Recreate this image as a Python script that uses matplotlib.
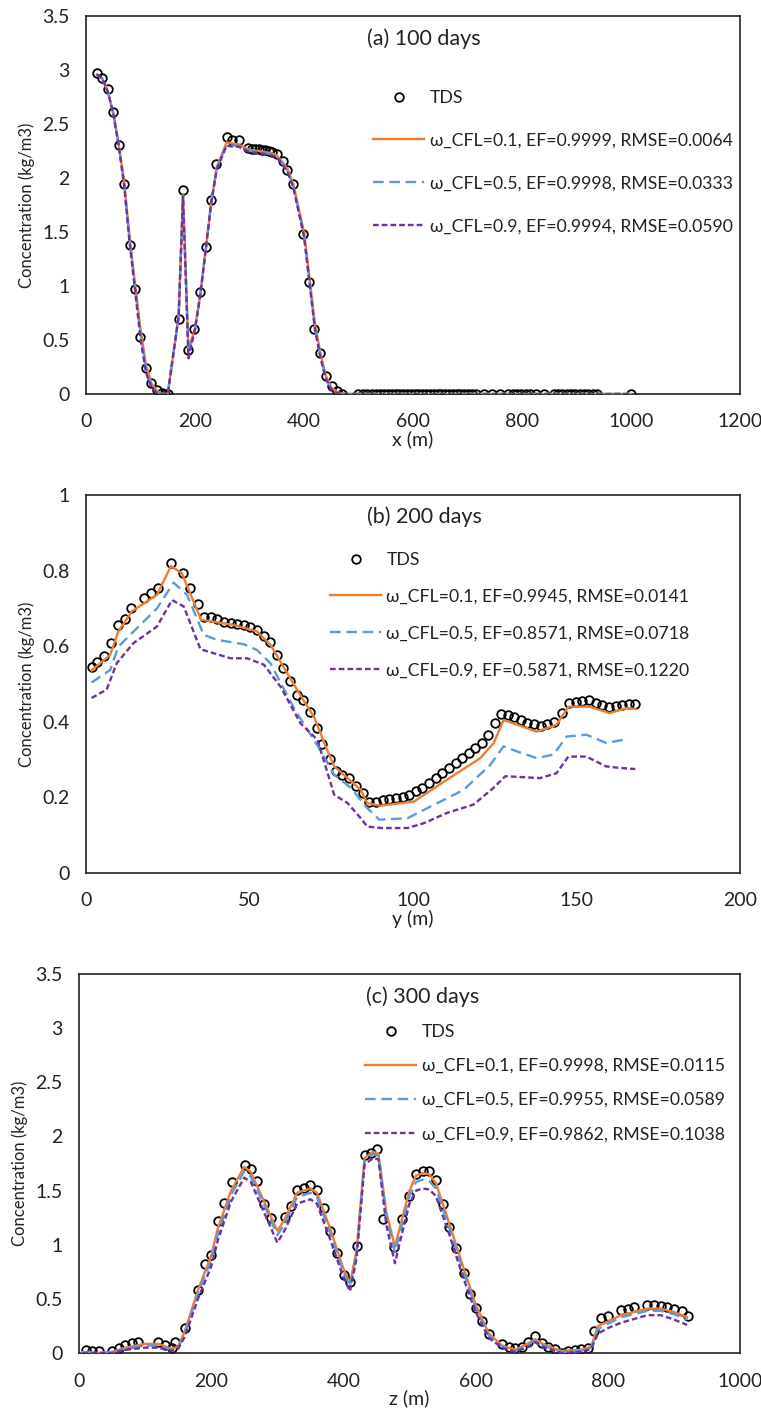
import matplotlib
matplotlib.use("Agg")
from matplotlib import pyplot
from matplotlib.ticker import FuncFormatter

pyplot.rcParams['font.family'] = ['Lato', 'DejaVu Sans']

# ---------------- (a) 100 days, x direction ----------------
xa_tds = [20, 30, 40, 50, 60, 70, 80, 90, 100, 110, 120, 130, 140, 145, 150,
          170, 178, 188, 199, 209, 220, 229, 239, 258, 268, 280, 298, 305, 311,
          317, 323, 329, 335, 341, 350, 361, 369, 379, 399, 409, 419, 429, 440,
          451, 460, 469, 500, 508, 516, 524, 532, 540, 547, 554, 561, 568, 575,
          582, 589, 596, 603, 610, 617, 624, 631, 638, 645, 652, 659, 666, 673,
          680, 687, 694, 701, 708, 715, 730, 745, 760, 775, 783, 791, 799, 807,
          815, 825, 840, 858, 866, 874, 882, 890, 898, 906, 914, 922, 930, 938,
          1000]
ya_tds = [2.97, 2.93, 2.82, 2.61, 2.31, 1.94, 1.38, 0.97, 0.53, 0.24, 0.10, 0.04,
          0.01, 0.0, 0.0, 0.69, 1.89, 0.41, 0.60, 0.94, 1.36, 1.80, 2.13, 2.38,
          2.35, 2.35, 2.28, 2.27, 2.27, 2.27, 2.26, 2.26, 2.25, 2.24, 2.22, 2.16,
          2.07, 1.94, 1.48, 1.04, 0.60, 0.38, 0.17, 0.07, 0.025, 0.0, 0.0, 0.0,
          0.0, 0.0, 0.0, 0.0, 0.0, 0.0, 0.0, 0.0, 0.0, 0.0, 0.0, 0.0, 0.0, 0.0,
          0.0, 0.0, 0.0, 0.0, 0.0, 0.0, 0.0, 0.0, 0.0, 0.0, 0.0, 0.0, 0.0, 0.0,
          0.0, 0.0, 0.0, 0.0, 0.0, 0.0, 0.0, 0.0, 0.0, 0.0, 0.0, 0.0, 0.0, 0.0,
          0.0, 0.0, 0.0, 0.0, 0.0, 0.0, 0.0, 0.0, 0.0, 0.0]

xa_sim = [20, 30, 40, 50, 60, 70, 80, 90, 100, 110, 120, 130, 140, 150, 170,
          178, 188, 200, 210, 220, 230, 240, 258, 270, 280, 300, 320, 340, 350,
          360, 370, 380, 400, 410, 420, 430, 440, 450, 460, 470, 1000]
ya_cfl01 = [2.96, 2.92, 2.80, 2.60, 2.31, 1.97, 1.45, 1.02, 0.60, 0.27, 0.10,
            0.03, 0.0, 0.0, 0.72, 1.85, 0.42, 0.60, 0.93, 1.35, 1.78, 2.10,
            2.33, 2.32, 2.31, 2.26, 2.25, 2.23, 2.21, 2.15, 2.08, 1.95, 1.50,
            1.08, 0.65, 0.38, 0.17, 0.06, 0.02, 0.0, 0.0]
ya_cfl05 = [2.96, 2.92, 2.80, 2.60, 2.31, 1.95, 1.42, 0.99, 0.56, 0.24, 0.08,
            0.02, 0.0, 0.0, 0.72, 1.84, 0.38, 0.60, 0.93, 1.35, 1.78, 2.09,
            2.31, 2.30, 2.30, 2.25, 2.24, 2.22, 2.20, 2.14, 2.06, 1.93, 1.48,
            1.05, 0.62, 0.36, 0.15, 0.05, 0.01, 0.0, 0.0]
ya_cfl09 = [2.96, 2.92, 2.80, 2.60, 2.30, 1.93, 1.40, 0.96, 0.51, 0.20, 0.06,
            0.01, 0.0, 0.0, 0.72, 1.83, 0.33, 0.60, 0.93, 1.35, 1.78, 2.08,
            2.30, 2.29, 2.29, 2.24, 2.23, 2.21, 2.19, 2.13, 2.05, 1.92, 1.46,
            1.03, 0.60, 0.34, 0.14, 0.04, 0.01, 0.0, 0.0]

# ---------------- (b) 200 days, y direction ----------------
xb_tds = [1.7, 3.5, 5.5, 7.7, 9.7, 12.0, 13.8, 17.6, 19.8, 21.9, 26.0, 29.7,
          31.9, 34.2, 36.2, 38.2, 40.1, 42.1, 44.2, 46.2, 48.3, 50.3, 52.3,
          54.4, 56.4, 58.3, 60.3, 62.4, 64.4, 66.5, 68.5, 70.5, 72.3, 74.5,
          76.6, 78.4, 80.5, 82.5, 84.6, 86.6, 88.7, 90.7, 92.7, 94.7, 96.8,
          98.8, 100.8, 102.8, 104.9, 106.9, 108.9, 111.0, 113.0, 115.0, 117.0,
          119.0, 121.0, 123.0, 125.0, 127.0, 129.0, 131.0, 133.0, 135.0, 137.0,
          139.0, 141.0, 143.0, 145.5, 147.8, 149.8, 151.8, 153.9, 155.9, 157.9,
          159.9, 162.0, 164.0, 166.0, 168.0]
yb_tds = [0.546, 0.559, 0.574, 0.608, 0.655, 0.671, 0.700, 0.727, 0.742, 0.753,
          0.821, 0.793, 0.753, 0.711, 0.678, 0.677, 0.671, 0.665, 0.661, 0.659,
          0.656, 0.652, 0.643, 0.627, 0.610, 0.577, 0.542, 0.507, 0.471, 0.458,
          0.427, 0.383, 0.342, 0.301, 0.270, 0.260, 0.251, 0.231, 0.211, 0.189,
          0.189, 0.194, 0.196, 0.198, 0.200, 0.207, 0.216, 0.225, 0.238, 0.251,
          0.264, 0.278, 0.291, 0.304, 0.317, 0.330, 0.345, 0.365, 0.398, 0.420,
          0.418, 0.412, 0.405, 0.398, 0.393, 0.390, 0.393, 0.400, 0.424, 0.451,
          0.452, 0.454, 0.458, 0.451, 0.445, 0.439, 0.442, 0.445, 0.447, 0.448]

xb_cfl01 = [1.7, 7.4, 9.9, 14.0, 21.7, 26.0, 29.3, 35.2, 45.2, 52.3, 56.4, 61.5,
            66.7, 69.7, 73.3, 75.9, 80.0, 84.0, 86.0, 89.8, 100.3, 110.4, 120.6,
            124.7, 127.7, 137.8, 143.9, 147.5, 154.0, 160.1, 165.2, 168.0]
yb_cfl01 = [0.536, 0.577, 0.639, 0.692, 0.736, 0.812, 0.793, 0.670, 0.656,
            0.639, 0.604, 0.529, 0.454, 0.414, 0.335, 0.282, 0.251, 0.220,
            0.185, 0.178, 0.189, 0.247, 0.304, 0.344, 0.405, 0.374, 0.392,
            0.440, 0.440, 0.423, 0.436, 0.434]
xb_cfl05 = [1.7, 7.4, 9.9, 21.7, 26.8, 30.9, 36.0, 40.0, 48.3, 52.3, 56.4, 63.6,
            70.8, 75.9, 81.0, 86.0, 89.7, 98.3, 105.4, 115.5, 123.6, 127.7,
            131.7, 137.8, 142.9, 147.0, 153.0, 159.1, 165.2]
yb_cfl05 = [0.504, 0.537, 0.599, 0.700, 0.768, 0.736, 0.630, 0.617, 0.605,
            0.590, 0.555, 0.436, 0.337, 0.260, 0.225, 0.172, 0.141, 0.145,
            0.176, 0.220, 0.286, 0.335, 0.322, 0.304, 0.313, 0.361, 0.366,
            0.344, 0.354]
xb_cfl09 = [1.7, 6.3, 9.4, 14.5, 21.7, 26.3, 29.9, 35.0, 44.2, 49.3, 54.4, 59.5,
            65.6, 70.8, 75.9, 80.0, 84.0, 86.0, 90.2, 98.3, 103.4, 110.4, 118.5,
            124.6, 128.2, 132.8, 138.8, 143.9, 147.5, 153.0, 159.1, 163.2, 168.0]
yb_cfl09 = [0.463, 0.485, 0.555, 0.608, 0.652, 0.722, 0.705, 0.592, 0.568,
            0.568, 0.551, 0.493, 0.396, 0.352, 0.207, 0.185, 0.145, 0.123,
            0.119, 0.119, 0.132, 0.159, 0.181, 0.225, 0.256, 0.254, 0.251,
            0.264, 0.308, 0.308, 0.282, 0.278, 0.275]

# ---------------- (c) 300 days, z direction ----------------
xc_tds = [10, 20, 30, 50, 60, 70, 80, 90, 120, 130, 140, 146, 160, 180, 190,
          199, 210, 220, 231, 251, 260, 270, 280, 290, 311, 320, 330, 340, 350,
          360, 370, 380, 390, 401, 410, 421, 432, 442, 451, 460, 477, 488, 500,
          510, 520, 530, 540, 550, 560, 570, 583, 592, 601, 610, 620, 640, 650,
          660, 670, 680, 690, 700, 710, 720, 730, 740, 750, 760, 770, 779, 790,
          801, 820, 830, 840, 860, 870, 880, 890, 900, 912, 922]
yc_tds = [0.025, 0.02, 0.015, 0.02, 0.045, 0.07, 0.09, 0.105, 0.10, 0.07, 0.05,
          0.10, 0.23, 0.585, 0.825, 0.91, 1.22, 1.39, 1.58, 1.74, 1.70, 1.59,
          1.38, 1.25, 1.26, 1.36, 1.51, 1.52, 1.55, 1.51, 1.34, 1.13, 0.92,
          0.72, 0.66, 0.99, 1.83, 1.85, 1.88, 1.24, 0.98, 1.24, 1.45, 1.65,
          1.68, 1.68, 1.60, 1.38, 1.16, 0.97, 0.74, 0.55, 0.42, 0.30, 0.18,
          0.08, 0.055, 0.045, 0.055, 0.10, 0.16, 0.09, 0.06, 0.035, 0.005,
          0.02, 0.028, 0.035, 0.05, 0.20, 0.32, 0.34, 0.40, 0.41, 0.425, 0.445,
          0.44, 0.435, 0.425, 0.405, 0.385, 0.345]

xc_sim = [5, 30, 50, 70, 100, 120, 140, 150, 160, 180, 200, 210, 230, 250, 260,
          280, 300, 310, 330, 350, 360, 380, 400, 410, 420, 432, 445, 453, 465,
          478, 490, 500, 510, 520, 530, 540, 560, 580, 600, 620, 640, 660, 680,
          690, 700, 720, 730, 760, 775, 785, 800, 820, 860, 880, 900, 920]
yc_cfl01 = [0.01, 0.0, 0.01, 0.05, 0.085, 0.085, 0.04, 0.06, 0.20, 0.58, 0.90,
            1.15, 1.50, 1.72, 1.67, 1.40, 1.13, 1.22, 1.48, 1.52, 1.48, 1.15,
            0.78, 0.64, 0.95, 1.80, 1.86, 1.84, 1.30, 0.98, 1.27, 1.50, 1.64,
            1.66, 1.65, 1.57, 1.20, 0.82, 0.45, 0.18, 0.07, 0.03, 0.09, 0.13,
            0.09, 0.04, 0.02, 0.03, 0.06, 0.25, 0.29, 0.35, 0.41, 0.41, 0.38,
            0.33]
yc_cfl05 = [0.01, 0.0, 0.01, 0.04, 0.07, 0.07, 0.03, 0.05, 0.18, 0.55, 0.86,
            1.10, 1.46, 1.68, 1.63, 1.37, 1.09, 1.18, 1.44, 1.48, 1.44, 1.11,
            0.75, 0.62, 0.92, 1.78, 1.84, 1.82, 1.26, 0.93, 1.22, 1.45, 1.58,
            1.60, 1.59, 1.52, 1.16, 0.78, 0.42, 0.16, 0.06, 0.02, 0.08, 0.12,
            0.08, 0.03, 0.01, 0.02, 0.05, 0.22, 0.27, 0.33, 0.39, 0.39, 0.36,
            0.31]
yc_cfl09 = [0.0, 0.0, 0.0, 0.03, 0.05, 0.05, 0.02, 0.04, 0.15, 0.50, 0.80,
            1.04, 1.40, 1.62, 1.58, 1.30, 1.02, 1.12, 1.38, 1.42, 1.38, 1.05,
            0.70, 0.57, 0.88, 1.74, 1.80, 1.79, 1.18, 0.83, 1.14, 1.38, 1.50,
            1.52, 1.51, 1.45, 1.10, 0.72, 0.38, 0.14, 0.05, 0.01, 0.06, 0.10,
            0.06, 0.02, 0.0, 0.01, 0.04, 0.18, 0.23, 0.28, 0.35, 0.35, 0.31,
            0.26]

labels_a = ["\u03c9_CFL=0.1, EF=0.9999, RMSE=0.0064",
            "\u03c9_CFL=0.5, EF=0.9998, RMSE=0.0333",
            "\u03c9_CFL=0.9, EF=0.9994, RMSE=0.0590"]
labels_b = ["\u03c9_CFL=0.1, EF=0.9945, RMSE=0.0141",
            "\u03c9_CFL=0.5, EF=0.8571, RMSE=0.0718",
            "\u03c9_CFL=0.9, EF=0.5871, RMSE=0.1220"]
labels_c = ["\u03c9_CFL=0.1, EF=0.9998, RMSE=0.0115",
            "\u03c9_CFL=0.5, EF=0.9955, RMSE=0.0589",
            "\u03c9_CFL=0.9, EF=0.9862, RMSE=0.1038"]

ORANGE = "#ED7D31"
BLUE = "#5B9BD5"
PURPLE = "#7030A0"
TEXTCOL = "#222222"


def draw_panel(ax, xt, yt, sims, labels, title, xlabel, xticks, yticks,
               title_xy, legend_xy, spacing):

	ax.plot(xt, yt, linestyle="none", marker="o", markersize=6.2,
		markerfacecolor="none", markeredgecolor="black", markeredgewidth=1.3,
		label="TDS", zorder=2)

	styles = [(ORANGE, None), (BLUE, (4.5, 2.4)), (PURPLE, (2.4, 1.3))]

	for (xs, ys), lab, (col, dash) in zip(sims, labels, styles):
		line, = ax.plot(xs, ys, color=col, linewidth=1.7, label=lab, zorder=3)
		if dash is not None:
			line.set_dashes(dash)

	ax.set_xlim(xticks[0], xticks[-1])
	ax.set_ylim(yticks[0], yticks[-1])
	ax.set_xticks(xticks)
	ax.set_yticks(yticks)

	fmt = FuncFormatter(lambda v, p: "%g" % round(v, 3))
	ax.xaxis.set_major_formatter(fmt)
	ax.yaxis.set_major_formatter(fmt)

	ax.tick_params(axis="both", length=0, labelsize=14, colors=TEXTCOL)
	ax.tick_params(axis="x", pad=14)
	ax.tick_params(axis="y", pad=12)

	for spine in ax.spines.values():
		spine.set_linewidth(1.2)
		spine.set_color(TEXTCOL)

	ax.set_xlabel(xlabel, fontsize=14, labelpad=0, color=TEXTCOL)
	ax.set_ylabel("Concentration (kg/m3)", fontsize=12, labelpad=5, color=TEXTCOL)

	ax.text(title_xy[0], title_xy[1], title, transform=ax.transAxes,
		ha="center", va="center", fontsize=15.5, color=TEXTCOL)

	leg = ax.legend(loc="upper left", bbox_to_anchor=legend_xy, frameon=False,
		fontsize=12.7, handlelength=2.9, handletextpad=0.3, labelspacing=spacing,
		borderpad=0, borderaxespad=0)
	for txt in leg.get_texts():
		txt.set_color(TEXTCOL)


figure = pyplot.figure(figsize=(7.61, 14.09), dpi=100)

ax_a = figure.add_axes([0.113, 0.7204, 0.8594, 0.2682])
ax_b = figure.add_axes([0.113, 0.3804, 0.8594, 0.2683])
ax_c = figure.add_axes([0.1038, 0.0397, 0.8686, 0.2690])

draw_panel(ax_a, xa_tds, ya_tds,
	[(xa_sim, ya_cfl01), (xa_sim, ya_cfl05), (xa_sim, ya_cfl09)],
	labels_a, "(a) 100 days", "x (m)",
	[0, 200, 400, 600, 800, 1000, 1200],
	[0, 0.5, 1, 1.5, 2, 2.5, 3, 3.5],
	(0.517, 0.94), (0.439, 0.805), 1.52)

draw_panel(ax_b, xb_tds, yb_tds,
	[(xb_cfl01, yb_cfl01), (xb_cfl05, yb_cfl05), (xb_cfl09, yb_cfl09)],
	labels_b, "(b) 200 days", "y (m)",
	[0, 50, 100, 150, 200],
	[0, 0.2, 0.4, 0.6, 0.8, 1.0],
	(0.518, 0.942), (0.373, 0.85), 1.18)

draw_panel(ax_c, xc_tds, yc_tds,
	[(xc_sim, yc_cfl01), (xc_sim, yc_cfl05), (xc_sim, yc_cfl09)],
	labels_c, "(c) 300 days", "z (m)",
	[0, 200, 400, 600, 800, 1000],
	[0, 0.5, 1, 1.5, 2, 2.5, 3, 3.5],
	(0.52, 0.939), (0.433, 0.869), 1.03)

figure.savefig("out.png", dpi=100)
